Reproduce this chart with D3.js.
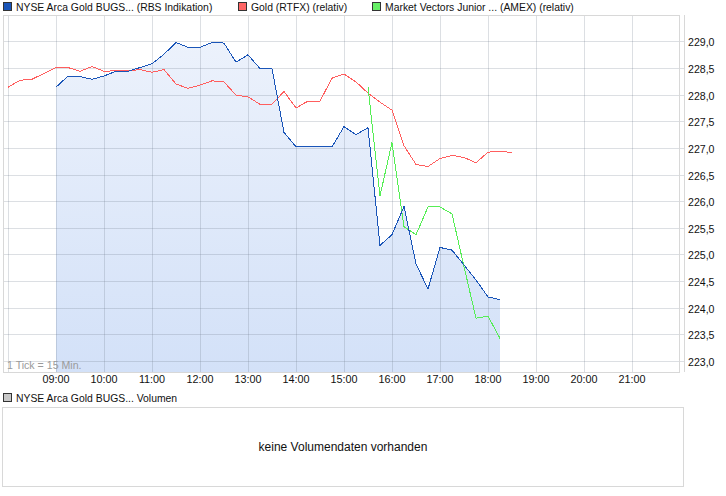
<!DOCTYPE html>
<html><head><meta charset="utf-8">
<script src="https://cdn.jsdelivr.net/npm/d3@7"></script>
<style>
html,body{margin:0;padding:0;background:#fff;}
svg{display:block;font-family:"Liberation Sans",Arial,sans-serif;}
</style></head>
<body>
<svg id="c" width="726" height="496"></svg>
<script>
// ---- data ----
const slots = ["08:00","08:15","08:30","08:45","09:00","09:15","09:30","09:45","10:00","10:15","10:30","10:45",
"11:00","11:15","11:30","11:45","12:00","12:15","12:30","12:45","13:00","13:15","13:30","13:45",
"14:00","14:15","14:30","14:45","15:00","15:15","15:30","15:45","16:00","16:15","16:30","16:45",
"17:00","17:15","17:30","17:45","18:00","18:15","18:30"];
const goldRel = [228.14,228.27,228.29,228.40,228.51,228.51,228.44,228.53,228.44,228.45,228.45,228.47,
228.42,228.47,228.20,228.12,228.18,228.26,228.24,227.99,227.96,227.82,227.82,228.06,
227.75,227.88,227.88,228.31,228.39,228.24,228.03,227.86,227.71,227.04,226.69,226.65,
226.80,226.86,226.82,226.72,226.92,226.94,226.91];
const bugsStart = "09:00";
const bugs = [228.14,228.35,228.34,228.29,228.35,228.44,228.44,228.51,228.58,228.76,228.98,228.89,
228.89,228.98,228.97,228.61,228.75,228.49,228.49,227.29,227.02,227.02,227.03,227.02,
227.40,227.25,227.38,225.17,225.37,225.90,224.82,224.35,225.13,225.08,224.80,224.52,
224.20,224.15];
const juniorStart = "15:30";
const juniorRel = [228.14,226.10,227.10,225.52,225.37,225.89,225.89,225.76,224.77,223.80,223.84,223.42];
const hourLabels = ["09:00","10:00","11:00","12:00","13:00","14:00","15:00","16:00","17:00","18:00","19:00","20:00","21:00"];
const gridHours = ["08:00"].concat(hourLabels);
const yTicks = [223.0,223.5,224.0,224.5,225.0,225.5,226.0,226.5,227.0,227.5,228.0,228.5,229.0];
const legendItems = [
  {name:"NYSE Arca Gold BUGS... (RBS Indikation)", color:"#1a55b8", x:3},
  {name:"Gold (RTFX) (relativ)", color:"#ff6666", x:238},
  {name:"Market Vectors Junior ... (AMEX) (relativ)", color:"#66ee66", x:372}
];

// ---- helpers ----
const toMin = s => { const [h,m]=s.split(":").map(Number); return h*60+m; };
const series = (start, vals) => { const s0 = slots.indexOf(start); return vals.map((v,i)=>({t:toMin(slots[s0+i]), v})); };

const svg = d3.select("#c");
const L=3, R=679, T=15, B=372;
const x = d3.scaleLinear().domain([473.75, 1320]).range([L, R+1]);
const y = d3.scaleLinear().domain([222.79, 229.497]).range([B, T]);

// legend
legendItems.forEach(it=>{
  svg.append("rect").attr("x",it.x+0.5).attr("y",2.5).attr("width",8).attr("height",8)
    .attr("fill",it.color).attr("stroke","#333").attr("stroke-width",1);
  svg.append("text").attr("x",it.x+13).attr("y",10.5).attr("font-size",10.4).attr("fill","#111").text(it.name);
});

// gradient
const defs = svg.append("defs");
const g = defs.append("linearGradient").attr("id","bf")
  .attr("gradientUnits","userSpaceOnUse").attr("x1",0).attr("x2",0).attr("y1",T).attr("y2",B);
g.append("stop").attr("offset",0).attr("stop-color","#eef3fc");
g.append("stop").attr("offset",1).attr("stop-color","#d3e1f8");

const bugsData = series(bugsStart, bugs);
const goldData = series("08:00", goldRel);
const juniorData = series(juniorStart, juniorRel);

// area fill
svg.append("path").datum(bugsData)
  .attr("d", d3.area().x(d=>x(d.t)).y0(B).y1(d=>y(d.v)))
  .attr("fill","url(#bf)");

// grid
const grid = svg.append("g");
yTicks.forEach(t=>{
  const yy = Math.round(y(t))+0.5;
  grid.append("line").attr("x1",L).attr("x2",684).attr("y1",yy).attr("y2",yy)
    .attr("stroke","rgba(110,120,140,0.24)");
});
gridHours.forEach(h=>{
  const xx = Math.round(x(toMin(h)))+0.5;
  grid.append("line").attr("x1",xx).attr("x2",xx).attr("y1",T).attr("y2",B)
    .attr("stroke","rgba(110,120,140,0.24)");
});
// frame
svg.append("rect").attr("x",L+0.5).attr("y",T+0.5).attr("width",R-L).attr("height",B-T)
  .attr("fill","none").attr("stroke","#d8d8d8");
svg.append("line").attr("x1",684.5).attr("x2",684.5).attr("y1",T).attr("y2",B).attr("stroke","#d8d8d8");

// y axis labels
yTicks.forEach(t=>{
  svg.append("text").attr("x",688).attr("y",Math.round(y(t))+4.5).attr("font-size",10.6).attr("fill","#111")
    .text(d3.format(".1f")(t).replace(".",","));
});
// x axis labels
hourLabels.forEach(h=>{
  svg.append("text").attr("x",x(toMin(h))).attr("y",383).attr("text-anchor","middle")
    .attr("font-size",10.8).attr("fill","#111").text(h);
});
svg.append("text").attr("x",7).attr("y",369).attr("font-size",10.6).attr("fill","#9a9a9a").text("1 Tick = 15 Min.");

// lines
const line = d3.line().x(d=>x(d.t)).y(d=>y(d.v));
svg.append("path").datum(goldData).attr("d",line).attr("fill","none").attr("stroke","#ff5e5e").attr("stroke-width",1).attr("shape-rendering","crispEdges");
svg.append("path").datum(juniorData).attr("d",line).attr("fill","none").attr("stroke","#55ee55").attr("stroke-width",1).attr("shape-rendering","crispEdges");
svg.append("path").datum(bugsData).attr("d",line).attr("fill","none").attr("stroke","#1a55b8").attr("stroke-width",1).attr("shape-rendering","crispEdges");

// volume panel
svg.append("rect").attr("x",3.5).attr("y",393.5).attr("width",8).attr("height",8)
  .attr("fill","#c8c8c8").attr("stroke","#333");
svg.append("text").attr("x",16).attr("y",401.5).attr("font-size",10.4).attr("fill","#111").text("NYSE Arca Gold BUGS... Volumen");
svg.append("rect").attr("x",2.5).attr("y",407.5).attr("width",681).attr("height",79)
  .attr("fill","#fff").attr("stroke","#d8d8d8");
svg.append("text").attr("x",343).attr("y",451).attr("text-anchor","middle").attr("font-size",12).attr("fill","#111")
  .text("keine Volumendaten vorhanden");
</script>
</body></html>
